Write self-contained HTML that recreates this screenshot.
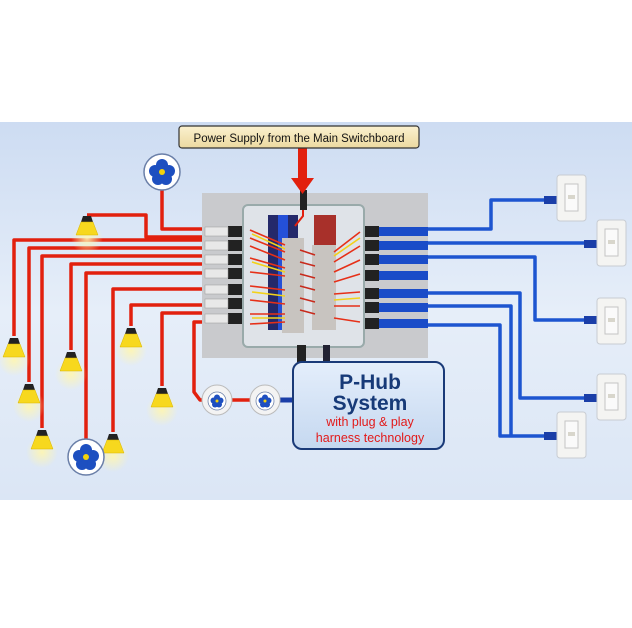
<!DOCTYPE html>
<html><head><meta charset="utf-8"><style>
html,body{margin:0;padding:0;background:#fff;}
svg{display:block;}
</style></head><body>
<svg width="632" height="628" viewBox="0 0 632 628" xmlns="http://www.w3.org/2000/svg">
<defs>
<linearGradient id="bg" x1="0" y1="0" x2="0" y2="1">
<stop offset="0" stop-color="#cddcf2"/><stop offset="0.5" stop-color="#e6eef9"/><stop offset="1" stop-color="#dbe6f5"/>
</linearGradient>
<radialGradient id="glow"><stop offset="0" stop-color="#fff6b0" stop-opacity="0.9"/><stop offset="1" stop-color="#fff6b0" stop-opacity="0"/></radialGradient>
<linearGradient id="hub" x1="0" y1="0" x2="0" y2="1"><stop offset="0" stop-color="#e4eefb"/><stop offset="1" stop-color="#c5d8f0"/></linearGradient>
<linearGradient id="lab" x1="0" y1="0" x2="0" y2="1"><stop offset="0" stop-color="#fbf1cf"/><stop offset="1" stop-color="#ecd9a0"/></linearGradient>
<g id="lamp"><circle cx="0" cy="16" r="16" fill="url(#glow)"/><path d="M-4,-6 L4,-6 L6,0 L-6,0Z" fill="#222"/><path d="M-6,0 L6,0 L11,13 L-11,13Z" fill="#f7d81e" stroke="#d8b400" stroke-width="0.5"/></g>
<g id="fan"><circle r="18" fill="#fff" stroke="#6a7fa8" stroke-width="1.5"/><g fill="#1d4fc0"><circle cx="0" cy="-7" r="6"/><circle cx="7" cy="-1" r="6"/><circle cx="4" cy="7" r="6"/><circle cx="-4" cy="7" r="6"/><circle cx="-7" cy="-1" r="6"/></g><circle r="3" fill="#f2d20a"/></g>
<g id="sw"><rect x="0" y="0" width="29" height="46" rx="3" fill="#f4f4f2" stroke="#c8ccd2"/><rect x="8" y="9" width="13" height="27" fill="#fafafa" stroke="#c4c4c4"/><rect x="11" y="20" width="7" height="4" fill="#d8d6cc"/></g>
</defs>
<rect x="0" y="122" width="632" height="378" fill="url(#bg)"/>
<!-- red wires -->
<g fill="none" stroke="#e2200e" stroke-width="3.5" stroke-linejoin="round">
<path d="M162,190 V229 H205"/>
<path d="M87,215 H146 V237 H205"/>
<path d="M14,336 V240 H205"/>
<path d="M29,382 V248 H205"/>
<path d="M42,428 V256 H205"/>
<path d="M71,350 V264 H205"/>
<path d="M86,440 V273 H205"/>
<path d="M113,432 V289 H205"/>
<path d="M131,326 V305 H205"/>
<path d="M162,386 V313 H205"/>
<path d="M205,322 H194 V392 L200,400 H250"/>
</g>
<path d="M280,400 H295" stroke="#1a3ea8" stroke-width="5"/>
<!-- lamps -->
<use href="#lamp" x="87" y="222"/>
<use href="#lamp" x="14" y="344"/>
<use href="#lamp" x="29" y="390"/>
<use href="#lamp" x="42" y="436"/>
<use href="#lamp" x="71" y="358"/>
<use href="#lamp" x="113" y="440"/>
<use href="#lamp" x="131" y="334"/>
<use href="#lamp" x="162" y="394"/>
<use href="#fan" x="162" y="172"/>
<use href="#fan" x="86" y="457"/>
<g><circle cx="217" cy="400" r="15" fill="#f3f3f3" stroke="#bbb"/><use href="#fan" x="0" y="0" transform="translate(217,401) scale(0.5)"/></g>
<g><circle cx="265" cy="400" r="15" fill="#f3f3f3" stroke="#bbb"/><use href="#fan" x="0" y="0" transform="translate(265,401) scale(0.5)"/></g>
<!-- blue wires -->
<g fill="none" stroke="#1d55d0" stroke-width="3.5" stroke-linejoin="round">
<path d="M428,229 H491 V200 H548"/>
<path d="M428,243 H588"/>
<path d="M428,257 H535 V320 H588"/>
<path d="M428,293 H520 V398 H588"/>
<path d="M428,306 H511 V436"/>
<path d="M428,325 H500 V436 H548"/>
</g>
<g fill="#1a3ea8"><rect x="544" y="196" width="13" height="8"/><rect x="584" y="240" width="13" height="8"/><rect x="584" y="316" width="13" height="8"/><rect x="584" y="394" width="13" height="8"/><rect x="544" y="432" width="13" height="8"/></g>
<use href="#sw" x="557" y="175"/><use href="#sw" x="597" y="220"/><use href="#sw" x="597" y="298"/><use href="#sw" x="597" y="374"/><use href="#sw" x="557" y="412"/>
<!-- panel -->
<rect x="202" y="193" width="226" height="165" fill="#c9cacd"/>
<g fill="#222">
<rect x="228" y="226" width="16" height="11"/><rect x="228" y="240" width="16" height="11"/><rect x="228" y="254" width="16" height="11"/><rect x="228" y="268" width="16" height="11"/><rect x="228" y="284" width="16" height="11"/><rect x="228" y="298" width="16" height="11"/><rect x="228" y="313" width="16" height="11"/>
<rect x="363" y="226" width="16" height="11"/><rect x="363" y="240" width="16" height="11"/><rect x="363" y="254" width="16" height="11"/><rect x="363" y="270" width="16" height="11"/><rect x="363" y="288" width="16" height="11"/><rect x="363" y="302" width="16" height="11"/><rect x="363" y="318" width="16" height="11"/>
</g>
<g fill="#e8e8e8" stroke="#999" stroke-width="0.5"><rect x="205" y="227" width="23" height="9"/><rect x="205" y="241" width="23" height="9"/><rect x="205" y="255" width="23" height="9"/><rect x="205" y="269" width="23" height="9"/><rect x="205" y="285" width="23" height="9"/><rect x="205" y="299" width="23" height="9"/><rect x="205" y="314" width="23" height="9"/></g>
<g fill="#1a4cc8"><rect x="379" y="227" width="49" height="9"/><rect x="379" y="241" width="49" height="9"/><rect x="379" y="255" width="49" height="9"/><rect x="379" y="271" width="49" height="9"/><rect x="379" y="289" width="49" height="9"/><rect x="379" y="303" width="49" height="9"/><rect x="379" y="319" width="49" height="9"/></g>
<rect x="243" y="205" width="121" height="142" rx="5" fill="#dfe3e8" stroke="#9aa" stroke-width="2"/>
<rect x="268" y="215" width="30" height="115" fill="#24296a"/>
<rect x="278" y="215" width="10" height="115" fill="#2450d8"/>
<rect x="282" y="238" width="22" height="95" fill="#c8c4c0"/>
<rect x="314" y="215" width="22" height="30" fill="#a8302a"/>
<rect x="312" y="245" width="24" height="85" fill="#c8c4c0"/>
<g stroke-width="1.6" fill="none">
<path d="M250,230 L285,245 M250,238 L285,252 M250,246 L285,260 M250,258 L285,268 M250,272 L285,276 M250,286 L285,290 M250,300 L285,304 M250,314 L285,314 M250,324 L285,322" stroke="#e63018"/>
<path d="M252,234 L285,249 M252,262 L285,272 M252,292 L285,296 M252,318 L285,318" stroke="#f2d21a"/>
<path d="M300,250 L315,255 M300,262 L315,266 M300,274 L315,278 M300,286 L315,290 M300,298 L315,302 M300,310 L315,314" stroke="#c82a1c"/>
<path d="M334,252 L360,232 M334,262 L360,246 M334,272 L360,260 M334,282 L360,274 M334,294 L360,292 M334,306 L360,306 M334,318 L360,322" stroke="#e63018"/>
<path d="M334,256 L360,238 M334,300 L360,298" stroke="#f2d21a"/>
</g>
<path d="M303,193 V216 L295,226" stroke="#e2200e" stroke-width="2" fill="none"/>
<rect x="300" y="190" width="7" height="20" fill="#222"/>
<rect x="297" y="345" width="9" height="18" fill="#222"/><rect x="323" y="345" width="7" height="18" fill="#223"/>
<!-- label + arrow -->
<rect x="298" y="148" width="9" height="30" fill="#e2200e"/>
<path d="M291,178 L314,178 L302.5,194Z" fill="#e2200e"/>
<rect x="179" y="126" width="240" height="22" rx="3" fill="url(#lab)" stroke="#333" stroke-width="1.2"/>
<text x="299" y="142" font-family="Liberation Sans, sans-serif" font-size="11.5" text-anchor="middle" fill="#111">Power Supply from the Main Switchboard</text>
<!-- hub -->
<rect x="293" y="362" width="151" height="87" rx="9" fill="url(#hub)" stroke="#1a3a78" stroke-width="2"/>
<text x="370" y="389" font-family="Liberation Sans, sans-serif" font-size="21" font-weight="bold" text-anchor="middle" fill="#173a78">P-Hub</text>
<text x="370" y="410" font-family="Liberation Sans, sans-serif" font-size="21" font-weight="bold" text-anchor="middle" fill="#173a78">System</text>
<text x="370" y="426" font-family="Liberation Sans, sans-serif" font-size="12.5" text-anchor="middle" fill="#e21a1a">with plug &amp; play</text>
<text x="370" y="442" font-family="Liberation Sans, sans-serif" font-size="12.5" text-anchor="middle" fill="#e21a1a">harness technology</text>
</svg>
</body></html>
